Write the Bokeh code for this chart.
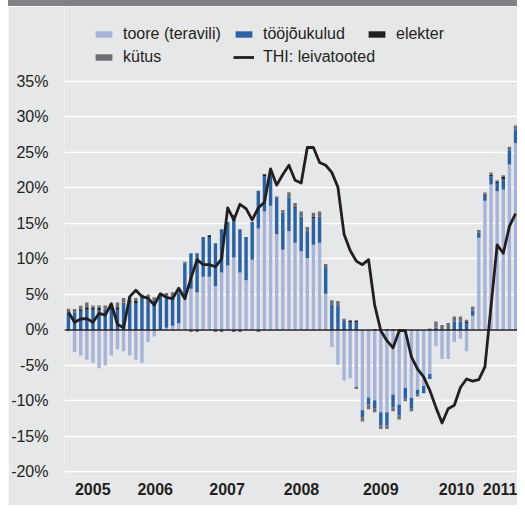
import numpy as np
from bokeh.plotting import figure
from bokeh.models import (ColumnDataSource, FixedTicker, PrintfTickFormatter, Span,
                          Legend, LegendItem, Div, Range1d)
from bokeh.layouts import column
from bokeh.embed import file_html
from bokeh.resources import INLINE

# ---------------- data ----------------
year_labels = ["2005", "2006", "2007", "2008", "2009", "2010", "2011"]
year_tick_pos = [3.97, 14.16, 25.9, 38.04, 50.99, 63.37, 70.95]

toore = [
    -0.2, -3.1, -3.6, -4.2, -4.6, -5.4, -5.0, -3.6, -2.7, -3.0,
    -3.6, -4.2, -4.6, -1.7, -0.9, 0.0, 0.3, 0.6, 0.95, 4.4,
    5.8, 5.3, 7.5, 7.5, 6.2, 8.1, 9.1, 10.2, 8.1, 7.0,
    9.9, 14.3, 16.7, 17.5, 13.5, 11.3, 13.9, 12.3, 11.1, 10.1,
    12.0, 12.3, 5.1, -2.4, -4.9, -7.1, -6.8, -8.0, -11.3, -9.5,
    -9.9, -11.6, -11.6, -9.1, -10.5, -8.15, -9.55, -8.4, -7.9, -6.2,
    -2.3, -4.1, -4.1, -1.7, -1.25, -3.0, 2.0, 13.0, 18.2, 20.5,
    19.55, 19.8, 23.3, 26.3]

toojoukulud = [
    2.5, 2.5, 2.6, 2.84, 2.84, 2.75, 2.84, 2.84, 2.84, 3.85,
    3.9, 3.8, 4.5, 4.4, 4.1, 5.1, 4.4, 4.3, 4.2, 4.9,
    5.0, 5.5, 5.6, 5.6, 6.0, 6.1, 6.1, 6.0, 6.1, 6.1,
    5.3, 5.3, 5.0, 4.4, 5.1, 5.2, 4.8, 4.9, 4.9, 3.7,
    3.7, 3.7, 3.6, 3.45, 3.5, 1.25, 1.05, 1.05, -1.0, -1.0,
    -1.2, -1.8, -1.8, -1.8, -1.55, -1.55, -1.55, -0.7, -1.0, -0.7,
    0.3, 0.1, 0.1, 1.2, 1.2, 0.96, 0.75, 0.7, 0.7, 1.1,
    1.15, 1.4, 2.0, 1.9]

elekter = [
    0, 0, 0.23, 0.38, 0.28, 0.38, 0, 0.25, 0.38, 0,
    0.2, 0.3, 0, 0, 0, 0, 0, 0, 0, 0,
    0, 0, 0, 0.23, 0, 0, 0, 0, 0, 0,
    0, 0, 0.25, 0, 0, 0, 0, 0.2, 0, 0,
    0.3, 0, 0.15, 0.15, 0, 0, 0.28, 0.28, 0, 0,
    0.1, 0.1, 0.1, 0.1, 0.1, 0, 0, 0, 0, 0,
    0, 0, 0, 0, 0, 0.25, 0, 0, 0.15, 0.28,
    0.2, 0.33, 0, 0]

kutus = [
    0.5, 0.47, 0.6, 0.66, 0.33, 0.33, 0.6, 0.6, 0.66, 0.65,
    0.5, 0.4, 0.5, 0.6, 0.5, 0, 0.5, 0.4, 0.5, 0.3,
    -0.3, -0.3, 0, 0, -0.3, -0.3, 0, -0.3, -0.3, 0,
    0, -0.3, 0, 0, 0.2, 0.4, 0.7, 0.5, 0.7, 0.7,
    0.5, 0.7, 0.45, 0.6, 0.6, 0.35, 0, -0.3, -0.6, -0.65,
    -0.47, -0.56, -0.56, -0.56, -0.56, -0.33, -0.33, -0.28, 0, 0.2,
    0.9, 0.6, 0.9, 0.7, 0.7, 0.25, 0.55, 0.4, 0.3, 0.3,
    0.2, 0.25, 0.5, 0.6]

thi_leivatooted = [
    2.5, 1.1, 1.55, 1.6, 1.1, 2.35, 2.1, 3.7, 0.8, 0.3,
    4.7, 5.6, 4.7, 4.5, 3.5, 5.1, 4.6, 4.4, 5.9, 4.4,
    7.3, 9.9, 9.2, 9.2, 8.9, 10.0, 17.2, 15.5, 17.7, 17.1,
    15.5, 17.2, 18.0, 22.7, 20.4, 21.9, 23.2, 21.1, 20.7, 25.7,
    25.7, 23.6, 23.2, 22.2, 20.1, 13.5, 11.2, 9.7, 9.2, 9.9,
    3.5, -0.1, -1.5, -2.5, -0.1, -0.1, -3.8, -5.5, -6.6, -8.5,
    -10.9, -13.1, -11.1, -10.6, -8.1, -6.9, -7.2, -7.0, -5.2, 3.4,
    12.0, 10.8, 14.6, 16.4]

# ---------------- style ----------------
BG = "#e6e7e8"
BAND = "#808285"
TXT = "#231f20"
C_TOORE = "#a7b4d8"
C_TOO = "#2b62a2"
C_EL = "#231f20"
C_KUT = "#6d6e71"
FONT = "Liberation Sans"

n = len(toore)
xs = list(range(n))

p = figure(width=509, height=499, title=None,
           x_range=Range1d(-0.647, 73.32), y_range=Range1d(-20.634, 45.56),
           output_backend="svg", toolbar_location=None,
           min_border_left=52, min_border_right=0, min_border_top=0, min_border_bottom=29)
p.background_fill_color = BG
p.border_fill_color = BG
p.outline_line_color = None

# grid / axes
p.xgrid.visible = False
p.yaxis.ticker = FixedTicker(ticks=list(range(-20, 40, 5)))
p.yaxis.formatter = PrintfTickFormatter(format="%d%%")
p.ygrid.grid_line_color = "white"
p.ygrid.grid_line_width = 1.5
for ax in (p.xaxis, p.yaxis):
    ax.axis_line_color = None
    ax.major_tick_line_color = None
    ax.minor_tick_line_color = None
    ax.major_label_text_font = FONT
    ax.major_label_text_font_size = "16px"
    ax.major_label_text_color = TXT
p.yaxis.major_label_standoff = 10
p.xaxis.ticker = FixedTicker(ticks=year_tick_pos)
p.xaxis.major_label_overrides = {t: lab for t, lab in zip(year_tick_pos, year_labels)}
p.xaxis.major_label_text_font_style = "bold"
p.xaxis.major_label_standoff = 0

# stacked bars
series = [("toore (teravili)", toore, C_TOORE),
          ("tööjõukulud", toojoukulud, C_TOO),
          ("elekter", elekter, C_EL),
          ("kütus", kutus, C_KUT)]
pos_base = np.zeros(n)
neg_base = np.zeros(n)
bar_r = {}
for name, vals, col in series:
    v = np.array(vals, dtype=float)
    bottom = np.where(v >= 0, pos_base, neg_base)
    top = bottom + v
    pos_base = np.where(v >= 0, top, pos_base)
    neg_base = np.where(v < 0, top, neg_base)
    src = ColumnDataSource(dict(x=xs, top=top, bottom=bottom))
    bar_r[name] = p.vbar(x="x", top="top", bottom="bottom", width=0.56, source=src,
                         fill_color=col, line_color=None)

p.add_layout(Span(location=0, dimension="width", line_color=TXT, line_width=1.5))

line_src = ColumnDataSource(dict(x=xs, y=thi_leivatooted))
line_r = p.line(x="x", y="y", source=line_src, line_color=TXT, line_width=2.8,
                line_join="round")

def add_leg(label, rends, x, y):
    leg = Legend(items=[LegendItem(label=label, renderers=rends)], location=(x, y),
                 orientation="horizontal", margin=0, padding=0, spacing=0,
                 glyph_width=21, glyph_height=8, label_standoff=9, label_height=18,
                 label_text_font=FONT, label_text_font_size="16px",
                 label_text_color=TXT, background_fill_alpha=0, border_line_alpha=0)
    p.add_layout(leg)

add_leg("toore (teravili)", [bar_r["toore (teravili)"]], 29, 433)
add_leg("tööjõukulud", [bar_r["tööjõukulud"]], 169, 433)
add_leg("elekter", [bar_r["elekter"]], 302, 433)
add_leg("kütus", [bar_r["kütus"]], 29, 410)
add_leg("THI: leivatooted", [line_r], 169, 410)

band = Div(text="", width=509, height=6, margin=(0, 0, 0, 0),
           styles={"background-color": BAND})
layout = column(band, p, spacing=0, margin=(0, 0, 0, 8))

open("out.html", "w").write(file_html(layout, INLINE))
